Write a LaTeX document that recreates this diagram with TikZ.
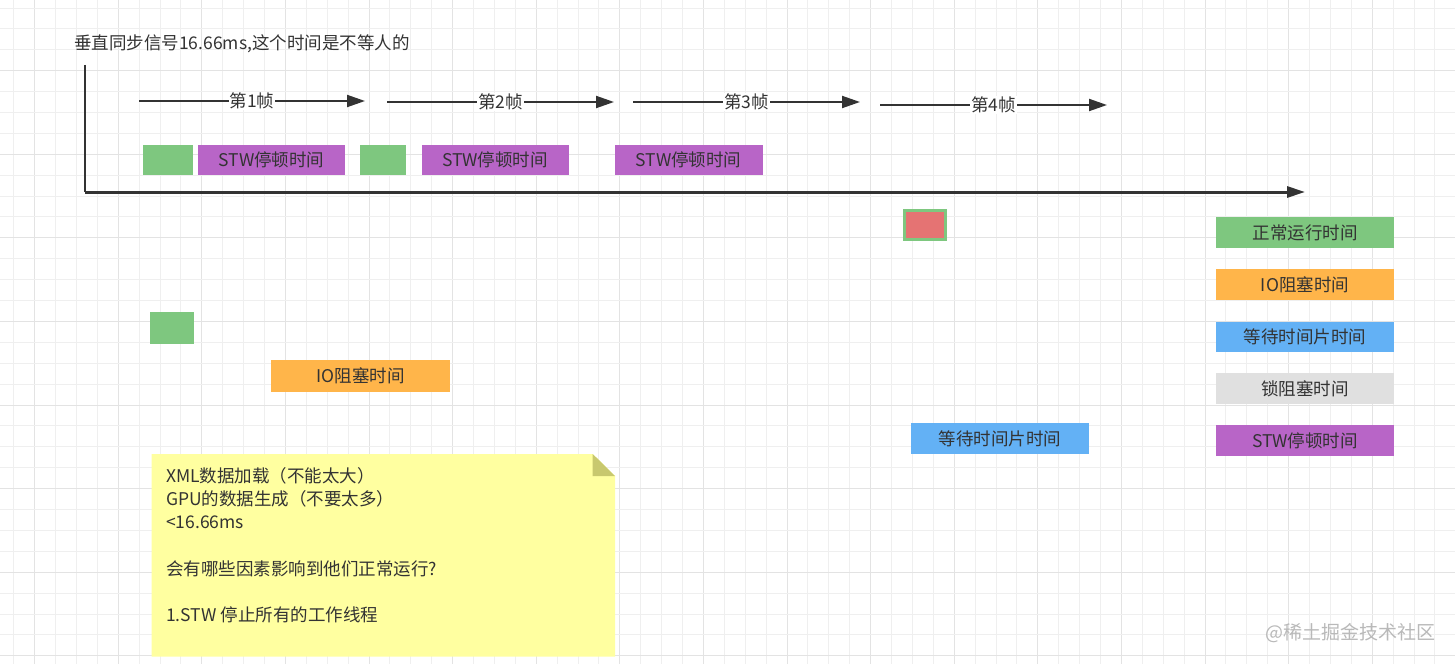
\documentclass[tikz,border=0pt]{standalone}
\usepackage{fontspec}
\setmainfont{Noto Sans CJK SC}
\definecolor{ink}{HTML}{333333}
\definecolor{runok}{HTML}{7EC77F}
\definecolor{stwc}{HTML}{B865C7}
\definecolor{iowait}{HTML}{FFB54A}
\definecolor{slicew}{HTML}{63B1F5}
\definecolor{lockw}{HTML}{E0E0E0}
\definecolor{blockedc}{HTML}{E57373}
\definecolor{notefill}{HTML}{FFFFA0}
\definecolor{notefold}{HTML}{C8C86E}
\definecolor{gridmin}{HTML}{EFEFEF}
\definecolor{gridmaj}{HTML}{E3E3E3}
\usetikzlibrary{positioning, arrows.meta}

\begin{document}
\begin{tikzpicture}[x=1bp, y=-1bp,
  bar/.style={minimum height=30.5bp, inner sep=0pt, text=ink,
              font=\fontsize{17.5bp}{21bp}\selectfont},
  legend/.style={bar, minimum width=178bp},
  frame/.style={draw=ink, line width=2bp, -{Triangle[length=18bp, width=12bp]}},
  flabel/.style={fill=white, inner sep=1bp, text=ink, font=\fontsize{17.5bp}{21bp}\selectfont},
]
\fill[white] (0,0) rectangle (1455,664);
\useasboundingbox (0,0) rectangle (1455,664);
\foreach \k in {0,...,68} {
  \pgfmathsetmacro\gx{round(13.3+20.9*\k)+0.5}
  \pgfmathsetmacro\gc{ifthenelse(mod(\k,4)==1,1,0)}
  \ifdim\gc pt>0.5pt \draw[gridmaj, line width=1bp] (\gx,0) -- (\gx,664);
  \else \draw[gridmin, line width=1bp] (\gx,0) -- (\gx,664); \fi
}
\foreach \k in {0,...,31} {
  \pgfmathsetmacro\gy{round(7.5+20.9*\k)+0.5}
  \pgfmathsetmacro\gc{ifthenelse(mod(\k,4)==3,1,0)}
  \ifdim\gc pt>0.5pt \draw[gridmaj, line width=1bp] (0,\gy) -- (1455,\gy);
  \else \draw[gridmin, line width=1bp] (0,\gy) -- (1455,\gy); \fi
}

\node[anchor=west, inner sep=0pt, text=ink, font=\fontsize{17.5bp}{21bp}\selectfont] (title) at (74,44)
  {垂直同步信号16.66ms,这个时间是不等人的};

\coordinate (top) at (85,65);
\coordinate (o) at (85,192);
\coordinate (xend) at (1305,192);
\draw[ink, line width=2bp] (top) -- (o);
\draw[ink, line width=3bp, -{Triangle[length=18bp, width=11bp]}] (o) -- (xend);

\coordinate (f1s) at (139,101);
\coordinate (f1e) at (365,101);
\coordinate (f2s) at (387,102);
\coordinate (f2e) at (614,102);
\coordinate (f3s) at (633,102);
\coordinate (f3e) at (860,102);
\coordinate (f4s) at (880,105);
\coordinate (f4e) at (1107,105);
\draw[frame] (f1s) -- (f1e) node[flabel, pos=0.5] (fl1) {第1帧};
\draw[frame] (f2s) -- (f2e) node[flabel, pos=0.5] (fl2) {第2帧};
\draw[frame] (f3s) -- (f3e) node[flabel, pos=0.5] (fl3) {第3帧};
\draw[frame] (f4s) -- (f4e) node[flabel, pos=0.5] (fl4) {第4帧};

\node[bar, fill=runok, minimum width=50bp] (run1) at (168,160) {};
\node[bar, fill=stwc, minimum width=147bp] (stw1) at (271.5,160) {STW停顿时间};
\node[bar, fill=runok, minimum width=46bp] (run2) at (383,160) {};
\node[bar, fill=stwc, minimum width=147bp] (stw2) at (495,160) {STW停顿时间};
\node[bar, fill=stwc, minimum width=148bp] (stw3) at (688.5,160) {STW停顿时间};

\node[draw=runok, line width=3bp, fill=blockedc, minimum width=40.5bp,
      minimum height=28.5bp, inner sep=0pt] (lock1) at (925,225) {};

\node[bar, fill=runok, minimum width=44bp, minimum height=31.5bp] (run3) at (172,328) {};
\node[bar, fill=iowait, minimum width=179bp, minimum height=31.5bp] (io1) at (360.5,376) {IO阻塞时间};
\node[bar, fill=slicew, minimum width=178bp, minimum height=31.5bp] (wait1) at (1000,438.5) {等待时间片时间};

\node[legend, fill=runok] (lg1) at (1305,232.5) {正常运行时间};
\node[legend, fill=iowait, below=21.3bp of lg1] (lg2) {IO阻塞时间};
\node[legend, fill=slicew, below=21.3bp of lg2] (lg3) {等待时间片时间};
\node[legend, fill=lockw, below=20.5bp of lg3] (lg4) {锁阻塞时间};
\node[legend, fill=stwc, below=21.3bp of lg4] (lg5) {STW停顿时间};

\fill[notefill] (151.5,454) -- (592.7,454) -- (615,476) -- (615,656.5) -- (151.5,656.5) -- cycle;
\fill[notefold] (592.7,454) -- (615,476) -- (592.7,476) -- cycle;
\node[anchor=north west, inner sep=0pt, align=left, text=ink,
      font=\fontsize{17.5bp}{23.3bp}\selectfont] (memo) at (166,467)
  {XML数据加载（不能太大）\\
   GPU的数据生成（不要太多）\\
   <16.66ms\\[23.3bp]
   会有哪些因素影响到他们正常运行?\\[23.3bp]
   1.STW 停止所有的工作线程};

\node[anchor=east, inner sep=0pt, text=gray!55, font=\fontsize{19bp}{22bp}\selectfont] (mark) at (1436,633)
  {@稀土掘金技术社区};
\end{tikzpicture}
\end{document}
